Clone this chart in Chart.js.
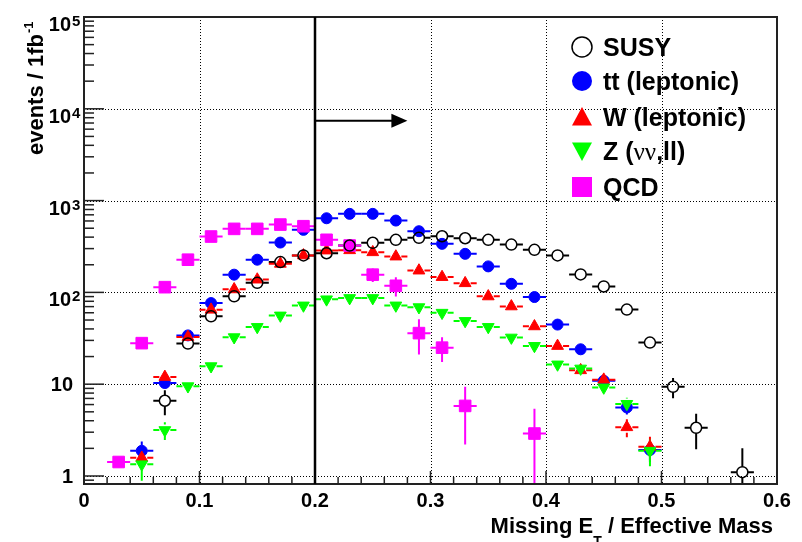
<!DOCTYPE html>
<html>
<head>
<meta charset="utf-8">
<script src="https://cdn.jsdelivr.net/npm/chart.js@4.4.1/dist/chart.umd.min.js"></script>
<style>
    html, body { margin: 0; padding: 0; background: #fff; }
    #wrap { width: 802px; height: 542px; }
</style>
</head>
<body>
<div id="wrap"><canvas id="chart" width="802" height="542"></canvas></div>
<script>
// Centres des bins (largeur 0.02)
const binCenters = [0.01, 0.03, 0.05, 0.07, 0.09, 0.11, 0.13, 0.15, 0.17, 0.19,
                    0.21, 0.23, 0.25, 0.27, 0.29, 0.31, 0.33, 0.35, 0.37, 0.39,
                    0.41, 0.43, 0.45, 0.47, 0.49, 0.51, 0.53, 0.55, 0.57, 0.59];
const binHalfWidth = 0.01;

// Séries (events / 1fb-1) et erreurs
const susyValues = [null, null, null, 6.6, 27.7, 54.8, 90.5, 127, 214, 253,
                    267, 324, 347, 374, 393, 409, 389, 374, 332, 291,
                    253, 157, 116, 65, 28.4, 9.35, 3.35, null, 1.1, null];
const susyErrors = [0, 0, 0, 2.0, 3, 4, 5, 6, 8, 9,
                    9, 10, 10, 11, 11, 11, 11, 11, 10, 9,
                    9, 7, 6, 4.5, 3, 2.3, 1.4, 0, 0.9, 0];

const ttValues = [null, null, 1.88, 10.3, 34, 76.5, 156, 227, 349, 480,
                  642, 717, 717, 606, 464, 338, 263, 192, 124, 89,
                  44.6, 24, 10.9, 5.58, 1.92, null, null, null, null, null];
const ttErrors = [0, 0, 0.5, 1.2, 2.5, 4, 6, 8, 10, 12,
                  14, 15, 15, 14, 12, 10, 9, 8, 6, 5,
                  3.5, 2.5, 1.6, 0.9, 0.5, 0, 0, 0, 0, 0];

const wValues = [null, null, 1.58, 12, 32.7, 64.8, 108, 138, 205, 253,
                 286, 288, 274, 246, 173, 147, 126, 90.5, 70.4, 42.7,
                 26.1, 14.2, 11.2, 3.4, 2.08, null, null, null, null, null];
const wErrors = [0, 0, 0.4, 1.3, 2.5, 3.5, 4.5, 5, 6, 7,
                 7, 7, 7, 7, 6, 5.5, 5, 4.5, 4, 3,
                 2.3, 1.6, 1.5, 0.75, 0.6, 0, 0, 0, 0, 0];

const zValues = [null, null, 1.34, 3.16, 9.5, 15.7, 32.5, 42, 56, 72,
                 84, 86.7, 86.7, 72, 69, 60, 48.8, 42, 32.2, 26.1,
                 16.4, 14.8, 9.2, 6.1, 1.88, null, null, null, null, null];
const zErrors = [0, 0, 0.45, 0.7, 1.2, 1.5, 2.2, 2.5, 3, 3.5,
                 3.5, 3.5, 3.5, 3.3, 3.2, 3, 2.7, 2.5, 2.2, 2,
                 1.6, 1.5, 1.2, 1, 0.6, 0, 0, 0, 0, 0];

const qcdValues = [null, 1.42, 28, 114, 227, 406, 492, 492, 548, 526,
                   374, 324, 156, 118, 36, 25, 5.8, null, null, 2.9,
                   null, null, null, null, null, null, null, null, null, null];
const qcdErrors = [0, 0.15, 3, 8, 12, 18, 20, 20, 22, 22,
                   30, 20, 26, 28, 15, 7.5, 3.6, 0, 0, 2.5,
                   0, 0, 0, 0, 0, 0, 0, 0, 0, 0];

// Axes
const xTickValues = [0, 0.1, 0.2, 0.3, 0.4, 0.5, 0.6];
const xTickLabels = ['0', '0.1', '0.2', '0.3', '0.4', '0.5', '0.6'];
const yTickValues = [1, 10, 100, 1000, 10000, 100000];
const yTickBases = ['1', '10', '10', '10', '10', '10'];
const yTickExps = ['', '', '2', '3', '4', '5'];
const yMin = 0.818;
const yMax = 100000;

// Coupure
const cutValue = 0.2;
const arrowEnd = 0.28;
const arrowLevel = 7400;

const FONT = '"Liberation Sans", Arial, Helvetica, sans-serif';

const series = [
    { label: 'SUSY', values: susyValues, errors: susyErrors, color: '#000000', style: 'circle', hollow: true, order: 0 },
    { label: 'tt (leptonic)', values: ttValues, errors: ttErrors, color: '#0000ff', style: 'circle', order: 4 },
    { label: 'W (leptonic)', values: wValues, errors: wErrors, color: '#ff0000', style: 'triUp', order: 3 },
    { label: 'Z (νν,ll)', values: zValues, errors: zErrors, color: '#00ff00', style: 'triDown', order: 2 },
    { label: 'QCD', values: qcdValues, errors: qcdErrors, color: '#ff00ff', style: 'square', order: 1 }
];

function toPoints(values) {
    const pts = [];
    binCenters.forEach((x, i) => {
        if (values[i] !== null) pts.push({ x: x, y: values[i] });
    });
    return pts;
}

function buildDataset(s) {
    const ds = {
        label: s.label,
        data: toPoints(s.values),
        showLine: false,
        order: s.order,
        borderColor: s.color,
        backgroundColor: s.hollow ? 'rgba(0,0,0,0)' : s.color,
        pointBorderWidth: s.hollow ? 1.5 : 1
    };
    if (s.style === 'circle') {
        ds.pointStyle = 'circle';
        ds.pointRadius = 5.5;
    } else if (s.style === 'square') {
        ds.pointStyle = 'rect';
        ds.pointRadius = 8.2;
    } else {
        ds.pointStyle = 'triangle';
        ds.pointRadius = 6.8;
        ds.rotation = s.style === 'triDown' ? 180 : 0;
    }
    return ds;
}

// Marqueur de légende
function drawMarker(ctx, style, x, y, size, color, hollow) {
    const h = size / 2;
    ctx.save();
    ctx.fillStyle = color;
    ctx.strokeStyle = color;
    ctx.lineWidth = 1.5;
    ctx.beginPath();
    if (style === 'circle') {
        ctx.arc(x, y, h, 0, Math.PI * 2);
    } else if (style === 'square') {
        ctx.rect(x - h, y - h, size, size);
    } else if (style === 'triUp') {
        ctx.moveTo(x, y - h);
        ctx.lineTo(x + h, y + h * 0.85);
        ctx.lineTo(x - h, y + h * 0.85);
        ctx.closePath();
    } else {
        ctx.moveTo(x - h, y - h * 0.85);
        ctx.lineTo(x + h, y - h * 0.85);
        ctx.lineTo(x, y + h);
        ctx.closePath();
    }
    if (hollow) ctx.stroke(); else ctx.fill();
    ctx.restore();
}

const rootStyle = {
    id: 'rootStyle',
    beforeDraw(chart) {
        const ctx = chart.ctx;
        ctx.save();
        ctx.fillStyle = '#ffffff';
        ctx.fillRect(0, 0, chart.width, chart.height);
        ctx.restore();
    },
    beforeDatasetsDraw(chart) {
        const ctx = chart.ctx;
        const area = chart.chartArea;
        const xs = chart.scales.x;
        const ys = chart.scales.y;

        // Grille pointillée
        ctx.save();
        ctx.strokeStyle = '#000';
        ctx.lineWidth = 1;
        ctx.setLineDash([1, 2]);
        xTickValues.slice(1, -1).forEach(v => {
            const px = Math.round(xs.getPixelForValue(v)) + 0.5;
            ctx.beginPath();
            ctx.moveTo(px, area.top);
            ctx.lineTo(px, area.bottom);
            ctx.stroke();
        });
        yTickValues.slice(0, -1).forEach(v => {
            const py = Math.round(ys.getPixelForValue(v)) + 0.5;
            ctx.beginPath();
            ctx.moveTo(area.left, py);
            ctx.lineTo(area.right, py);
            ctx.stroke();
        });
        ctx.restore();

        // Barres d'erreur
        ctx.save();
        ctx.beginPath();
        ctx.rect(area.left, area.top, area.right - area.left, area.bottom - area.top);
        ctx.clip();
        ctx.lineWidth = 2;
        const gap = 5.5;
        series.forEach(s => {
            ctx.strokeStyle = s.color;
            binCenters.forEach((bx, i) => {
                const v = s.values[i];
                if (v === null) return;
                const e = s.errors[i];
                const px = xs.getPixelForValue(bx);
                const py = ys.getPixelForValue(v);
                const xl = xs.getPixelForValue(bx - binHalfWidth);
                const xr = xs.getPixelForValue(bx + binHalfWidth);
                const yTop = ys.getPixelForValue(v + e);
                const yBot = v - e > 0 ? ys.getPixelForValue(v - e) : area.bottom + 10;
                ctx.beginPath();
                ctx.moveTo(xl, py); ctx.lineTo(px - gap, py);
                ctx.moveTo(px + gap, py); ctx.lineTo(xr, py);
                if (yTop < py - gap) { ctx.moveTo(px, py - gap); ctx.lineTo(px, yTop); }
                if (yBot > py + gap) { ctx.moveTo(px, py + gap); ctx.lineTo(px, yBot); }
                ctx.stroke();
            });
        });
        ctx.restore();
    },
    afterDatasetsDraw(chart) {
        const ctx = chart.ctx;
        const area = chart.chartArea;
        const xs = chart.scales.x;
        const ys = chart.scales.y;

        // Cadre
        ctx.save();
        ctx.strokeStyle = '#222';
        ctx.lineWidth = 2;
        ctx.strokeRect(area.left, area.top, area.right - area.left, area.bottom - area.top);

        // Graduations x (vers l'intérieur)
        ctx.lineWidth = 1.5;
        for (let k = 0; k <= 30; k++) {
            const v = k * 0.02;
            const px = xs.getPixelForValue(v);
            const len = k % 5 === 0 ? 13 : 7;
            ctx.beginPath();
            ctx.moveTo(px, area.bottom);
            ctx.lineTo(px, area.bottom - len);
            ctx.stroke();
        }
        // Graduations y (log)
        for (let d = 0.1; d <= yMax; d *= 10) {
            for (let k = 1; k <= 9; k++) {
                const v = k * d;
                if (v < yMin || v > yMax * 1.0001) continue;
                const py = ys.getPixelForValue(v);
                const len = k === 1 ? 20 : 10;
                ctx.beginPath();
                ctx.moveTo(area.left, py);
                ctx.lineTo(area.left + len, py);
                ctx.stroke();
            }
        }
        ctx.restore();

        // Étiquettes
        ctx.save();
        ctx.fillStyle = '#000';
        ctx.font = 'bold 20px ' + FONT;
        ctx.textAlign = 'center';
        ctx.textBaseline = 'alphabetic';
        xTickValues.forEach((v, i) => {
            ctx.fillText(xTickLabels[i], xs.getPixelForValue(v), 507);
        });
        yTickValues.forEach((v, i) => {
            const py = ys.getPixelForValue(v);
            if (yTickExps[i] === '') {
                ctx.font = 'bold 20px ' + FONT;
                ctx.textAlign = 'right';
                ctx.fillText(yTickBases[i], 73, py + 7);
            } else {
                ctx.font = 'bold 20px ' + FONT;
                ctx.textAlign = 'right';
                ctx.fillText(yTickBases[i], 71, py + 14);
                ctx.font = 'bold 15px ' + FONT;
                ctx.textAlign = 'left';
                ctx.fillText(yTickExps[i], 72, py + 9);
            }
        });

        // Titre axe x
        ctx.textAlign = 'left';
        ctx.font = 'bold 22px ' + FONT;
        const partA = 'Missing E';
        const partB = 'T';
        const partC = ' / Effective Mass';
        const wA = ctx.measureText(partA).width;
        const wC = ctx.measureText(partC).width;
        ctx.font = 'bold 14px ' + FONT;
        const wB = ctx.measureText(partB).width;
        const startX = 773 - (wA + wB + wC);
        ctx.font = 'bold 22px ' + FONT;
        ctx.fillText(partA, startX, 533);
        ctx.fillText(partC, startX + wA + wB, 533);
        ctx.font = 'bold 14px ' + FONT;
        ctx.fillText(partB, startX + wA, 546);

        // Titre axe y
        ctx.save();
        ctx.translate(43, 34);
        ctx.rotate(-Math.PI / 2);
        ctx.font = 'bold 22px ' + FONT;
        ctx.textAlign = 'right';
        ctx.fillText('events / 1fb', 0, 0);
        ctx.font = 'bold 13px ' + FONT;
        ctx.textAlign = 'left';
        ctx.fillText('-1', 1, -10);
        ctx.restore();
        ctx.restore();

        // Coupure et flèche
        ctx.save();
        ctx.strokeStyle = '#000';
        ctx.fillStyle = '#000';
        const cx = xs.getPixelForValue(cutValue);
        ctx.lineWidth = 2.5;
        ctx.beginPath();
        ctx.moveTo(cx, ys.getPixelForValue(yMax));
        ctx.lineTo(cx, ys.getPixelForValue(yMin));
        ctx.stroke();
        const ay = ys.getPixelForValue(arrowLevel);
        const ax = xs.getPixelForValue(arrowEnd);
        ctx.lineWidth = 2;
        ctx.beginPath();
        ctx.moveTo(cx, ay);
        ctx.lineTo(ax - 10, ay);
        ctx.stroke();
        ctx.beginPath();
        ctx.moveTo(ax, ay);
        ctx.lineTo(ax - 16, ay - 7);
        ctx.lineTo(ax - 16, ay + 7);
        ctx.closePath();
        ctx.fill();
        ctx.restore();

        // Légende
        const rows = [47, 81, 117, 151, 187];
        ctx.save();
        ctx.fillStyle = '#000';
        ctx.textAlign = 'left';
        ctx.textBaseline = 'alphabetic';
        series.forEach((s, i) => {
            drawMarker(ctx, s.style, 582, rows[i], 20, s.color, s.hollow);
            const base = rows[i] + 9;
            ctx.font = 'bold 25px ' + FONT;
            if (s.label.indexOf('ν') < 0) {
                ctx.fillText(s.label, 603, base);
            } else {
                let x = 603;
                ctx.fillText('Z (', x, base);
                x += ctx.measureText('Z (').width;
                ctx.font = '25px "Liberation Serif", "Times New Roman", serif';
                ctx.fillText('νν', x, base);
                x += ctx.measureText('νν').width;
                ctx.font = 'bold 25px ' + FONT;
                ctx.fillText(',ll)', x, base);
            }
        });
        ctx.restore();
    }
};

document.addEventListener('DOMContentLoaded', function() {
    Chart.defaults.font.family = FONT;
    const ctx = document.getElementById('chart').getContext('2d');
    new Chart(ctx, {
        type: 'scatter',
        data: { datasets: series.map(buildDataset) },
        options: {
            responsive: false,
            animation: false,
            events: [],
            layout: { padding: { left: 84, right: 25, top: 17, bottom: 58 } },
            plugins: {
                legend: { display: false },
                tooltip: { enabled: false }
            },
            scales: {
                x: { type: 'linear', min: 0, max: 0.6, display: false },
                y: { type: 'logarithmic', min: yMin, max: yMax, display: false }
            }
        },
        plugins: [rootStyle]
    });
});
</script>
</body>
</html>
